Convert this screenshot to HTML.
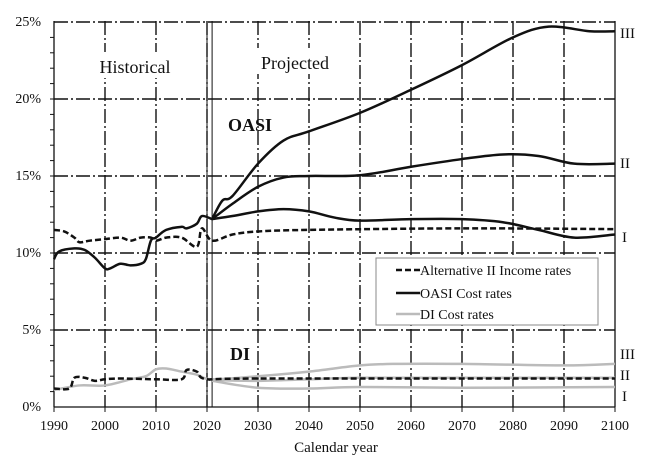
<!DOCTYPE html>
<html><head><meta charset="utf-8"><style>
html,body{margin:0;padding:0;background:#fff}
svg{display:block;font-family:"Liberation Serif",serif}
</style></head><body>
<svg id="s" width="648" height="468" viewBox="0 0 648 468" xmlns="http://www.w3.org/2000/svg">
<rect width="648" height="468" fill="#fff"/>
<g id="grid" stroke="#111" stroke-width="1.4" stroke-dasharray="14,3,2,3" fill="none"></g>
<g id="axes" stroke="#111" stroke-width="1.3" fill="none"></g>
<g font-size="14" fill="#111" text-anchor="end">
<text x="41" y="26">25%</text><text x="41" y="103">20%</text><text x="41" y="180">15%</text>
<text x="41" y="257">10%</text><text x="41" y="334">5%</text><text x="41" y="411">0%</text>
</g>
<g id="xl" font-size="14" fill="#111" text-anchor="middle"></g>
<text x="336" y="452" font-size="15" text-anchor="middle" fill="#111">Calendar year</text>
<rect x="90" y="52" width="92" height="26" fill="#fff"/>
<text x="135" y="73" font-size="18" text-anchor="middle" fill="#111">Historical</text>
<rect x="250" y="48" width="92" height="26" fill="#fff"/>
<text x="295" y="69" font-size="18" text-anchor="middle" fill="#111">Projected</text>
<text x="228" y="131" font-size="18" font-weight="bold" fill="#111">OASI</text>
<text x="230" y="360" font-size="18" font-weight="bold" fill="#111">DI</text>
<g font-size="15" fill="#111">
<text x="620" y="38">III</text><text x="620" y="168">II</text><text x="622" y="242">I</text>
<text x="620" y="359">III</text><text x="620" y="380">II</text><text x="622" y="401">I</text>
</g>
<g id="lines" fill="none"></g>
<rect x="376" y="258" width="222" height="67" fill="#fff" stroke="#888" stroke-width="1"/>
<g font-size="14" fill="#111">
<line x1="396" y1="270" x2="420" y2="270" stroke="#111" stroke-width="2.4" stroke-dasharray="6,3"/>
<text x="420" y="275">Alternative II Income rates</text>
<line x1="396" y1="293" x2="420" y2="293" stroke="#111" stroke-width="2.4"/>
<text x="420" y="298">OASI Cost rates</text>
<line x1="396" y1="314" x2="420" y2="314" stroke="#bbb" stroke-width="2.4"/>
<text x="420" y="319">DI Cost rates</text>
</g>
</svg>
<script>
const X=y=>54+(y-1990)*5.1, Y=p=>407-p*15.4;
const ns="http://www.w3.org/2000/svg";
function el(par,tag,a){const e=document.createElementNS(ns,tag);for(const k in a)e.setAttribute(k,a[k]);document.getElementById(par).appendChild(e);return e;}
for(let y=2000;y<=2090;y+=10)el("grid","line",{x1:X(y),y1:21,x2:X(y),y2:407});
for(let p=5;p<=25;p+=5)el("grid","line",{x1:54,y1:Y(p),x2:615,y2:Y(p)});
el("axes","line",{x1:54,y1:21,x2:54,y2:407});
el("axes","line",{x1:54,y1:407,x2:615,y2:407});
el("axes","line",{x1:615,y1:21,x2:615,y2:407});
el("axes","line",{x1:X(2020),y1:21,x2:X(2020),y2:407,"stroke-width":1});
el("axes","line",{x1:X(2021),y1:21,x2:X(2021),y2:407,"stroke-width":1});
for(let p=1;p<25;p++)el("axes","line",{x1:50,y1:Y(p),x2:54,y2:Y(p),"stroke-width":1});
for(let y=1990;y<=2100;y+=10){const t=el("xl","text",{x:X(y),y:430});t.textContent=y;el("axes","line",{x1:X(y),y1:407,x2:X(y),y2:412,"stroke-width":1});}
function path(pts){const P=pts.map(([a,b])=>[X(a),Y(b)]);let d="M"+P[0];
for(let i=0;i<P.length-1;i++){const p0=P[i-1]||P[i],p1=P[i],p2=P[i+1],p3=P[i+2]||p2;
d+=` C${p1[0]+(p2[0]-p0[0])/6},${p1[1]+(p2[1]-p0[1])/6} ${p2[0]-(p3[0]-p1[0])/6},${p2[1]-(p3[1]-p1[1])/6} ${p2[0]},${p2[1]}`;}return d;}
function L(pts,col,dash){el("lines","path",{d:path(pts),stroke:col,"stroke-width":2.5,"stroke-dasharray":dash||"none"});}
const G="#bbb",B="#111";
L([[1990,1.1],[1995,1.4],[2000,1.4],[2005,1.8],[2008,2.0],[2010,2.45],[2012,2.5],[2015,2.3],[2018,2.1],[2021,1.8],[2030,2.0],[2040,2.3],[2050,2.7],[2057,2.8],[2070,2.8],[2090,2.7],[2100,2.8]],G);
L([[2021,1.75],[2030,1.7],[2040,1.8],[2050,1.9],[2070,1.9],[2100,1.9]],G);
L([[2021,1.7],[2030,1.25],[2040,1.2],[2050,1.3],[2070,1.25],[2100,1.3]],G);
L([[1990,1.2],[1993,1.2],[1994,1.9],[1996,1.9],[1998,1.7],[2000,1.8],[2003,1.85],[2010,1.8],[2015,1.8],[2016,2.4],[2018,2.3],[2020,1.8],[2030,1.85],[2100,1.85]],B,"6,3");
L([[1990,11.5],[1992,11.4],[1994,11.0],[1995,10.7],[1997,10.8],[2000,10.9],[2003,11.0],[2005,10.8],[2007,11.0],[2009,11.0],[2010,10.8],[2012,11.0],[2015,11.0],[2018,10.4],[2019,11.6],[2021,10.8],[2025,11.2],[2030,11.4],[2040,11.5],[2070,11.6],[2100,11.55]],B,"6,3");
L([[1990,9.6],[1991,10.1],[1994,10.3],[1996,10.2],[1998,9.7],[2000,9.0],[2001,9.0],[2003,9.3],[2005,9.2],[2007,9.3],[2008,9.6],[2009,10.8],[2010,11.0],[2012,11.5],[2015,11.7],[2016,11.6],[2018,11.9],[2019,12.4],[2021,12.2]],B);
L([[2021,12.2],[2023,13.4],[2025,13.7],[2030,15.8],[2035,17.3],[2040,17.9],[2050,19.1],[2060,20.6],[2070,22.2],[2080,24.0],[2087,24.7],[2095,24.4],[2100,24.4]],B);
L([[2021,12.2],[2025,13.2],[2030,14.3],[2035,14.9],[2040,15.0],[2050,15.05],[2060,15.6],[2070,16.1],[2078,16.4],[2085,16.3],[2092,15.8],[2100,15.8]],B);
L([[2021,12.2],[2025,12.4],[2030,12.7],[2035,12.85],[2040,12.7],[2045,12.3],[2050,12.1],[2060,12.2],[2070,12.2],[2078,12.0],[2085,11.5],[2092,11.0],[2100,11.2]],B);
</script>
</body></html>
